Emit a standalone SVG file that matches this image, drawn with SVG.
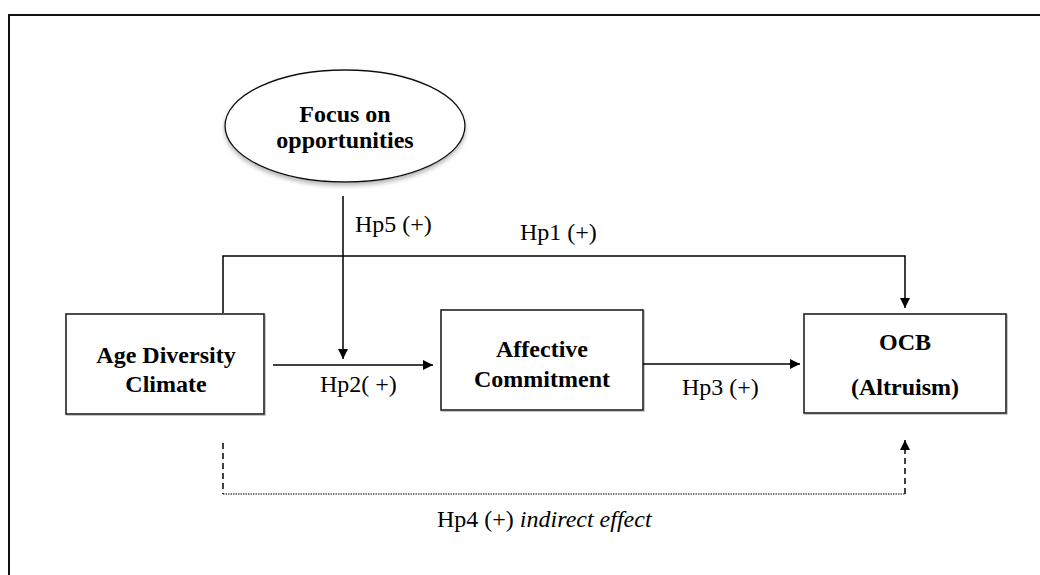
<svg xmlns="http://www.w3.org/2000/svg" width="1040" height="575" viewBox="0 0 1040 575">
<style>
.box{fill:#fff;stroke:#222;stroke-width:1.6}
.b{font-family:"Liberation Serif","Times New Roman",serif;font-weight:bold;font-size:24px;fill:#000;text-anchor:middle}
.l{font-family:"Liberation Serif","Times New Roman",serif;font-size:24px;fill:#000}
.c{fill:none;stroke:#000;stroke-width:1.5}
</style>
<defs>
<marker id="ah" viewBox="0 0 10 10" refX="10" refY="5" markerWidth="10" markerHeight="10" markerUnits="userSpaceOnUse" orient="auto"><path d="M0,0 L10,5 L0,10 Z" fill="#000"/></marker>
<filter id="sh" x="-20%" y="-20%" width="140%" height="150%"><feDropShadow dx="0" dy="3" stdDeviation="2" flood-color="#999" flood-opacity="0.7"/></filter>
<filter id="bs" x="-5%" y="-5%" width="110%" height="115%"><feDropShadow dx="1" dy="1" stdDeviation="0.6" flood-color="#888" flood-opacity="0.6"/></filter>
</defs>
<g id="frame"><path d="M9,575 L9,15 L1040,15" fill="none" stroke="#111" stroke-width="2"/></g>
<g id="focus"><ellipse cx="345" cy="126" rx="120" ry="56" fill="#fff" stroke="#111" stroke-width="1.4" filter="url(#sh)"/><text class="b" x="345" y="122">Focus on</text><text class="b" x="345" y="148">opportunities</text></g>
<g id="age"><rect class="box" x="66" y="314" width="198" height="100" filter="url(#bs)"/><text class="b" x="166" y="363">Age Diversity</text><text class="b" x="166" y="392">Climate</text></g>
<g id="affective"><rect class="box" x="441" y="310" width="202" height="100" filter="url(#bs)"/><text class="b" x="542" y="357">Affective</text><text class="b" x="542" y="387">Commitment</text></g>
<g id="ocb"><rect class="box" x="804" y="314" width="202" height="99" filter="url(#bs)"/><text class="b" x="905" y="350">OCB</text><text class="b" x="905" y="395">(Altruism)</text></g>
<g id="connectors">
<path class="c" d="M343,196 L343,359" marker-end="url(#ah)"/>
<path class="c" d="M223,313 L223,256 L905,256 L905,308" marker-end="url(#ah)"/>
<path class="c" d="M273,365 L433,365" marker-end="url(#ah)"/>
<path class="c" d="M643,364 L800,364" marker-end="url(#ah)"/>
<path class="c" d="M223,443 L223,494" stroke-dasharray="6,4"/>
<path d="M223,494 L905,494" fill="none" stroke="#000" stroke-width="1.2" stroke-dasharray="1.5,1"/>
<path class="c" d="M905,494 L905,440" stroke-dasharray="6,4" marker-end="url(#ah)"/>
</g>
<g id="labels">
<text class="l" x="355" y="232">Hp5 (+)</text>
<text class="l" x="520" y="240">Hp1 (+)</text>
<text class="l" x="320" y="392">Hp2( +)</text>
<text class="l" x="682" y="395">Hp3 (+)</text>
<text class="l" x="437" y="527">Hp4 (+) <tspan font-style="italic">indirect effect</tspan></text>
</g>
</svg>
